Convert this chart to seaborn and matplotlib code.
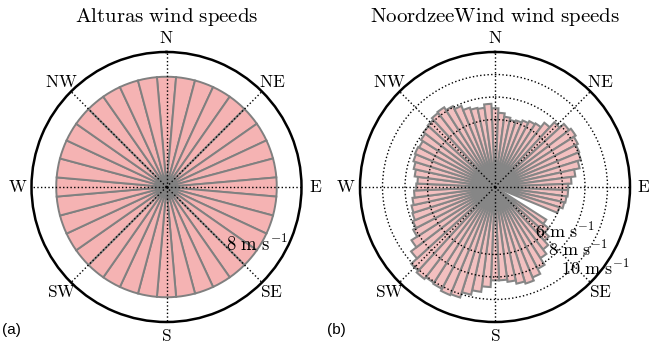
import numpy as np
import matplotlib
matplotlib.use("Agg")
import matplotlib.pyplot as plt
import seaborn as sns

sns.set_theme(style="white")
plt.rcParams["mathtext.fontset"] = "cm"
plt.rcParams["font.family"] = ["DejaVu Sans"]

# ---- data ----
directions = ["N", "NE", "E", "SE", "S", "SW", "W", "NW"]
dir_angles = [0, 45, 90, 135, 180, 225, 270, 315]

alturas_dirs = list(range(0, 360, 10))
alturas_speed = [9.8] * 36

nz_dirs = list(range(0, 360, 5))
nz_speed = [7.0, 6.6, 6.3, 6.1, 6.2, 6.4, 6.6, 6.7, 7.2, 7.8,
            8.3, 8.5, 8.3, 8.1, 8.0, 7.7, 7.2, 6.8, 6.5, 6.5,
            6.4, 6.3, 6.0, 0.4, 0.5, 5.4, 6.0, 6.5, 7.0, 7.5,
            8.2, 8.7, 9.0, 8.8, 8.5, 8.3, 8.3, 8.9, 9.4, 9.8,
            10.3, 10.4, 10.2, 10.1, 10.3, 10.1, 9.4, 8.8, 8.2, 7.9,
            7.7, 7.6, 7.4, 7.2, 7.0, 6.9, 7.2, 7.4, 7.6, 7.7,
            7.6, 7.8, 8.0, 8.1, 8.3, 8.4, 8.1, 7.8, 7.4, 7.2,
            7.1, 7.4]

alturas_rticks = [8]
nz_rticks = [6, 8, 10]

W, H = 649, 346
fig = plt.figure(figsize=(W / 100, H / 100), dpi=100)

def make_ax(cx, cy, rad):
    return fig.add_axes([(cx - rad) / W, (H - cy - rad) / H, 2 * rad / W, 2 * rad / H],
                        projection="polar")

def style(ax, rmax, rticks, rlabpos, show_rgrid, labsize):
    ax.set_theta_zero_location("N")
    ax.set_theta_direction(-1)
    ax.set_ylim(0, rmax)
    ax.set_xticks(np.deg2rad(dir_angles))
    ax.set_xticklabels([r"$\mathrm{%s}$" % d for d in directions], fontsize=12.5, color="black")
    ax.tick_params(axis="x", pad=-3)
    ax.set_yticks(rticks)
    ax.set_yticklabels([r"$%d\ \mathrm{m\ s^{-1}}$" % t for t in rticks], fontsize=labsize, color="black")
    ax.set_rlabel_position(rlabpos)
    ax.xaxis.grid(True, color="black", linestyle=":", linewidth=1.0)
    if show_rgrid:
        ax.yaxis.grid(True, color="black", linestyle=":", linewidth=1.0)
    else:
        ax.yaxis.grid(False)
    ax.set_axisbelow(False)
    ax.spines["polar"].set_color("black")
    ax.spines["polar"].set_linewidth(1.8)
    ax.set_facecolor("white")

ax1 = make_ax(166.5, 187, 135)
ax1.bar(np.deg2rad(alturas_dirs), alturas_speed, width=np.deg2rad(10), bottom=0,
        color="#f5b3b3", edgecolor="#808080", linewidth=1.4, zorder=1)
style(ax1, 12, alturas_rticks, 139, False, 13.5)

ax2 = make_ax(495, 187, 135)
ax2.bar(np.deg2rad(nz_dirs), nz_speed, width=np.deg2rad(5), bottom=0,
        color="#f3c0c0", edgecolor="#868686", linewidth=1.5, zorder=1)
style(ax2, 12, nz_rticks, 144, True, 13)

fig.text(166.5 / W, 1 - 17 / H, r"$\mathrm{Alturas\ wind\ speeds}$", ha="center", va="center",
         fontsize=15, color="black")
fig.text(495 / W, 1 - 17 / H, r"$\mathrm{NoordzeeWind\ wind\ speeds}$", ha="center", va="center",
         fontsize=15, color="black")
fig.text(2 / W, 1 - 330 / H, "(a)", ha="left", va="center", fontsize=11,
         family=["Liberation Sans", "DejaVu Sans"], color="black")
fig.text(327 / W, 1 - 330 / H, "(b)", ha="left", va="center", fontsize=11,
         family=["Liberation Sans", "DejaVu Sans"], color="black")

fig.savefig("out.png", dpi=100, facecolor="white")
